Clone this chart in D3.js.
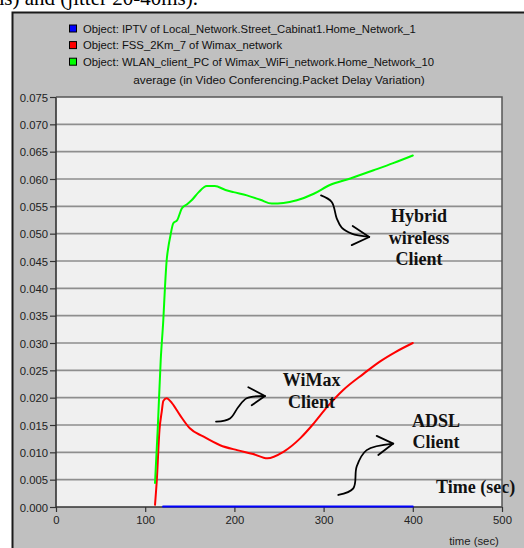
<!DOCTYPE html>
<html>
<head>
<meta charset="utf-8">
<script src="https://cdn.jsdelivr.net/npm/d3@7/dist/d3.min.js"></script>
<style>
  html, body { margin: 0; padding: 0; background: #ffffff; overflow: hidden; }
  svg { display: block; }
</style>
</head>
<body>
<svg id="chart" width="524" height="548"></svg>
<script>
// ---- data -------------------------------------------------------------
const seriesNames = [
  "Object: IPTV of Local_Network.Street_Cabinat1.Home_Network_1",
  "Object: FSS_2Km_7 of Wimax_network",
  "Object: WLAN_client_PC of Wimax_WiFi_network.Home_Network_10"
];
const seriesColors = ["#0000ff", "#ff0000", "#00ff00"];

// ADSL client (IPTV) - time (sec) / packet delay variation
const adslTime  = [120, 200, 300, 400];
const adslValue = [0.0001, 0.0001, 0.0001, 0.0001];

// WiMax client
const wimaxTime  = [111, 113, 116, 118.5, 120.3, 124, 130, 139, 150, 165, 184, 203, 221, 237, 255, 274, 289, 304, 322, 345, 363, 380, 400];
const wimaxValue = [0.0004, 0.0049, 0.0141, 0.0174, 0.0194, 0.0199, 0.0190, 0.0168, 0.0144, 0.0129, 0.0113, 0.0104, 0.0097, 0.0089, 0.0101, 0.0126, 0.0153, 0.0183, 0.0214, 0.0244, 0.0266, 0.0283, 0.0300];

// Hybrid wireless client
const hybridTime  = [111, 114, 117.4, 120.3, 122.2, 124, 126, 128, 131.5, 136, 141, 147, 152, 160, 169, 178, 190, 199, 214, 229, 242, 255, 270, 289, 307, 330, 356, 378, 400];
const hybridValue = [0.0044, 0.0141, 0.0269, 0.0342, 0.0403, 0.0450, 0.0476, 0.0494, 0.0519, 0.0525, 0.0546, 0.0554, 0.0561, 0.0576, 0.0587, 0.0587, 0.0580, 0.0576, 0.0570, 0.0562, 0.0555, 0.0556, 0.0561, 0.0573, 0.0589, 0.0601, 0.0616, 0.0629, 0.0643];

const xTicks = [0, 100, 200, 300, 400, 500];
const yTicks = [0, 0.005, 0.010, 0.015, 0.020, 0.025, 0.030, 0.035, 0.040, 0.045, 0.050, 0.055, 0.060, 0.065, 0.070, 0.075];

// hand-drawn callouts, in data units (time, value)
const callouts = [
  { text: ["Hybrid", "wireless", "Client"], at: [407, 0.0521],
    stroke: [[297.1,0.0570],[309.1,0.0558],[314.7,0.0528],[320.3,0.0511],[331.5,0.0500],[351.2,0.0494]],
    head: [[332.6,0.0514],[351.2,0.0494],[331.5,0.0479]] },
  { text: ["WiMax", "Client"], at: [286.5, 0.0221],
    stroke: [[179.4,0.0156],[195.1,0.0162],[204.4,0.0183],[213.8,0.0199],[234.3,0.0203]],
    head: [[215.6,0.0219],[234.3,0.0203],[219.4,0.0186]] },
  { text: ["ADSL", "Client"], at: [426, 0.0147],
    stroke: [[316.5,0.0022],[333.3,0.0034],[337.1,0.0074],[348.3,0.0104],[378.1,0.0116]],
    head: [[359.5,0.0130],[378.1,0.0116],[361.3,0.0095]] }
];

// ---- layout -----------------------------------------------------------
const svg = d3.select("#chart");
const W = 524, H = 548;
const x = d3.scaleLinear().domain([0, 500]).range([56, 502]);
const y = d3.scaleLinear().domain([0, 0.075]).range([507, 97]);

// caption line of the surrounding document, cut at the top
svg.append("text")
  .attr("x", -12).attr("y", 5)
  .attr("font-family", "'Liberation Serif', 'Times New Roman', serif")
  .attr("font-size", 21)
  .attr("fill", "#000")
  .text("ms) and (jitter 20-40ms).");

// grey panel
svg.append("rect").attr("x", 12).attr("y", 12).attr("width", W - 12).attr("height", H - 12)
  .attr("fill", "#c0c0c0");
svg.append("path").attr("d", `M12.5,${H} V12.5 H${W}`)
  .attr("fill", "none").attr("stroke", "#1a1a1a").attr("stroke-width", 2);

// legend
const leg = svg.append("g").attr("font-family", "'Liberation Sans', Arial, sans-serif")
  .attr("font-size", 11.3).attr("fill", "#111");
seriesNames.forEach((name, i) => {
  const cy = 28.5 + i * 16.6;
  leg.append("rect").attr("x", 69.5).attr("y", cy - 3.5).attr("width", 7).attr("height", 7)
    .attr("fill", seriesColors[i]).attr("stroke", "#000").attr("stroke-width", 1);
  leg.append("text").attr("x", 83).attr("y", cy + 4).text(name);
});

// chart title
svg.append("text").attr("x", 279).attr("y", 84).attr("text-anchor", "middle")
  .attr("font-family", "'Liberation Sans', Arial, sans-serif").attr("font-size", 11.8)
  .attr("fill", "#111").text("average (in Video Conferencing.Packet Delay Variation)");

// plot area
svg.append("rect").attr("x", x(0)).attr("y", y(0.075))
  .attr("width", x(500) - x(0)).attr("height", y(0) - y(0.075))
  .attr("fill", "#f0f0f0");

// grid
svg.append("g").selectAll("line").data(yTicks.filter(v => v > 0 && v < 0.075)).join("line")
  .attr("x1", x(0)).attr("x2", x(500))
  .attr("y1", d => y(d)).attr("y2", d => y(d))
  .attr("stroke", "#8e8e8e").attr("stroke-width", 1.6);

// axes
const tickFont = g => g.selectAll("text")
  .attr("font-family", "'Liberation Sans', Arial, sans-serif")
  .attr("font-size", 11.3).attr("fill", "#222");

const yAxis = svg.append("g").attr("transform", `translate(${x(0)},0)`)
  .call(d3.axisLeft(y).tickValues(yTicks).tickFormat(d3.format(".3f")).tickSize(6).tickPadding(2));
yAxis.select(".domain").remove();
yAxis.selectAll("line").attr("stroke", "#333").attr("stroke-width", 1.2);
yAxis.call(tickFont);
yAxis.selectAll("text").attr("dy", "0.36em");

const xAxis = svg.append("g").attr("transform", `translate(0,${y(0)})`)
  .call(d3.axisBottom(x).tickValues(xTicks).tickFormat(d3.format("d")).tickSize(5).tickPadding(4));
xAxis.select(".domain").remove();
xAxis.selectAll("line").attr("stroke", "#333").attr("stroke-width", 1.2);
xAxis.call(tickFont);

svg.append("text").attr("x", 474).attr("y", 545).attr("text-anchor", "middle")
  .attr("font-family", "'Liberation Sans', Arial, sans-serif").attr("font-size", 11.3)
  .attr("fill", "#222").text("time (sec)");

// left and bottom axis lines, under the series
svg.append("path")
  .attr("d", `M${x(0)},${y(0.075)} V${y(0)} H${x(500)}`)
  .attr("fill", "none").attr("stroke", "#333").attr("stroke-width", 1.6);

// series lines
const line = d3.line().x(d => x(d[0])).y(d => y(d[1])).curve(d3.curveMonotoneX);
const seriesData = [
  d3.zip(adslTime, adslValue),
  d3.zip(wimaxTime, wimaxValue),
  d3.zip(hybridTime, hybridValue)
];
[0, 1, 2].forEach(i => {
  svg.append("path").datum(seriesData[i])
    .attr("d", line).attr("fill", "none")
    .attr("stroke", seriesColors[i]).attr("stroke-width", 2)
    .attr("stroke-linejoin", "round").attr("stroke-linecap", "round");
});

// callouts
const serif = "'Liberation Serif', 'Times New Roman', serif";
const curvy = d3.line().x(d => x(d[0])).y(d => y(d[1])).curve(d3.curveCatmullRom.alpha(0.5));
const straight = d3.line().x(d => x(d[0])).y(d => y(d[1]));
callouts.forEach(c => {
  svg.append("path").attr("d", curvy(c.stroke)).attr("fill", "none")
    .attr("stroke", "#000").attr("stroke-width", 1.8).attr("stroke-linecap", "round");
  svg.append("path").attr("d", straight(c.head)).attr("fill", "none")
    .attr("stroke", "#000").attr("stroke-width", 1.8).attr("stroke-linecap", "round")
    .attr("stroke-linejoin", "round");
  const t = svg.append("text").attr("text-anchor", "middle")
    .attr("font-family", serif).attr("font-weight", "bold").attr("font-size", 18).attr("fill", "#111");
  c.text.forEach((s, k) => {
    t.append("tspan").attr("x", x(c.at[0])).attr("y", y(c.at[1]) + k * 21.5).text(s);
  });
});

svg.append("text").attr("x", 436).attr("y", 493)
  .attr("font-family", serif).attr("font-weight", "bold").attr("font-size", 18).attr("fill", "#111")
  .text("Time (sec)");

// top and right frame, drawn over the labels
svg.append("path")
  .attr("d", `M${x(0)},${y(0.075)} H${x(500)} V${y(0)}`)
  .attr("fill", "none").attr("stroke", "#555").attr("stroke-width", 1.5);
</script>
</body>
</html>
